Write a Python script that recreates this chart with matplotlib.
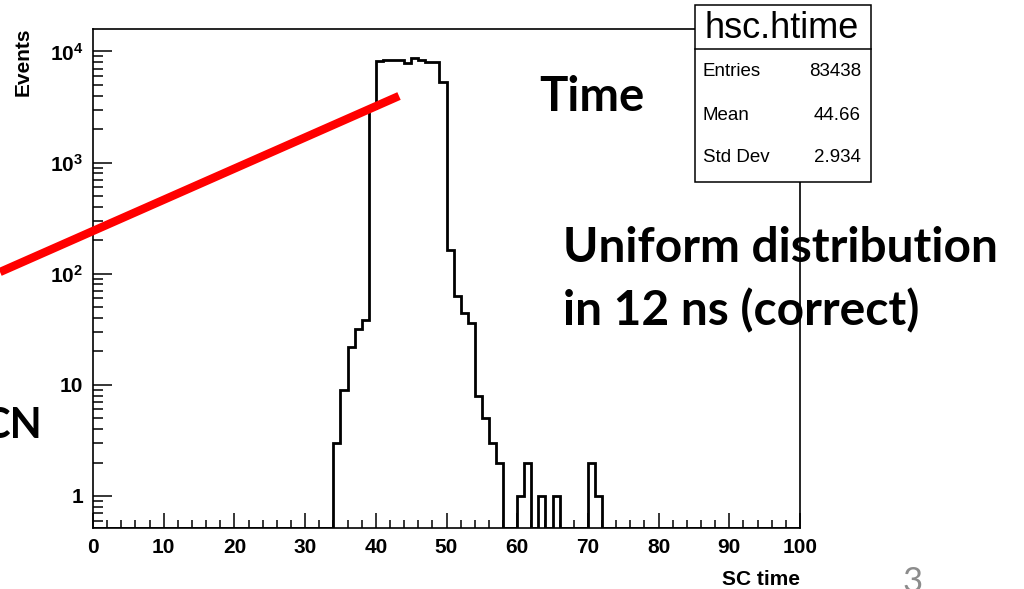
import numpy as np
import matplotlib
matplotlib.use("Agg")
import matplotlib.pyplot as plt
from matplotlib.lines import Line2D
from matplotlib.patches import Rectangle
from matplotlib.ticker import FixedLocator, MultipleLocator, NullFormatter

# SC time histogram (1 ns bins from 0 to 100), counts for bins 34..71, all others empty
bin_edges_range = (0, 100)
first_bin = 34
counts_34_71 = [
    3, 9, 22, 32, 38,                       # 34-38
    3100,                                   # 39
    8150, 8350, 8350, 8350, 7850,           # 40-44
    8650, 8400, 8100, 8100,                 # 45-48
    5300,                                   # 49
    162, 63, 44, 36, 8, 5, 3, 2,            # 50-57
    0, 0, 1, 2, 0, 1, 0, 1,                 # 58-65
    0, 0, 0, 0, 2, 1,                       # 66-71
]

# stats box
hist_name = "hsc.htime"
stat_names = ["Entries", "Mean", "Std Dev"]
stat_values = ["83438", "44.66", "2.934"]

# axis ticks
x_ticks = [0, 10, 20, 30, 40, 50, 60, 70, 80, 90, 100]
y_ticks = [1, 10, 100, 1000, 10000]
y_tick_labels = ["1", "10", r"$\mathbf{10^{2}}$", r"$\mathbf{10^{3}}$", r"$\mathbf{10^{4}}$"]

plt.rcParams["mathtext.fontset"] = "custom"
plt.rcParams["mathtext.bf"] = "Liberation Sans:bold"
plt.rcParams["mathtext.rm"] = "Liberation Sans"

root_font = "Liberation Sans"
slide_font = "Lato"

W, H = 1024, 589
fig = plt.figure(figsize=(W / 100, H / 100), dpi=100)
fig.patch.set_facecolor("white")


def fx(px):
    return px / W


def fy(py):
    return 1 - py / H


# build full histogram
edges = np.arange(bin_edges_range[0], bin_edges_range[1] + 1, 1)
counts = np.zeros(len(edges) - 1)
counts[first_bin:first_bin + len(counts_34_71)] = counts_34_71

ymin, ymax = 0.515, 15900

ax = fig.add_axes([fx(93), fy(528), fx(800) - fx(93), fy(29) - fy(528)])
ax.set_yscale("log")
ax.set_xlim(*bin_edges_range)
ax.set_ylim(ymin, ymax)

# empty bins sit on the bottom of the frame like in ROOT
ax.stairs(np.clip(counts, ymin, None), edges, baseline=ymin,
          color="black", linewidth=2.0, zorder=3)

# ROOT style ticks: inside, left and bottom only
ax.xaxis.set_major_locator(FixedLocator(x_ticks))
ax.xaxis.set_minor_locator(MultipleLocator(2))
ax.yaxis.set_major_locator(FixedLocator(y_ticks))
minor_y = [m * 10.0 ** e for e in range(-1, 5) for m in range(2, 10)]
ax.yaxis.set_minor_locator(FixedLocator(minor_y))
ax.yaxis.set_minor_formatter(NullFormatter())
ax.set_xticklabels([str(t) for t in x_ticks])
ax.set_yticklabels(y_tick_labels)

ax.tick_params(axis="x", which="major", direction="in", length=11, width=1.1,
               top=False, pad=7, labelsize=15)
ax.tick_params(axis="x", which="minor", direction="in", length=5.5, width=1.1, top=False)
ax.tick_params(axis="y", which="major", direction="in", length=14, width=1.1,
               right=False, pad=7, labelsize=15)
ax.tick_params(axis="y", which="minor", direction="in", length=7, width=1.1, right=False)
for lab in ax.get_xticklabels() + ax.get_yticklabels():
    lab.set_fontfamily(root_font)
    lab.set_fontweight("bold")

for sp in ax.spines.values():
    sp.set_linewidth(1.2)
    sp.set_color("black")

# axis titles (ROOT places them at the ends of the axes)
fig.text(fx(23), fy(27), "Events", rotation=90, ha="center", va="top",
         fontsize=15, fontweight="bold", family=root_font)
fig.text(fx(800), fy(585), "SC time", ha="right", va="baseline",
         fontsize=15, fontweight="bold", family=root_font)

# stats box
box_l, box_r, box_t, box_b, box_sep = 695, 871, 5, 182, 49
fig.add_artist(Rectangle((fx(box_l), fy(box_b)), fx(box_r) - fx(box_l), fy(box_t) - fy(box_b),
                         transform=fig.transFigure, facecolor="white",
                         edgecolor="black", linewidth=1.1, zorder=5))
fig.add_artist(Line2D([fx(box_l), fx(box_r)], [fy(box_sep), fy(box_sep)],
                      transform=fig.transFigure, color="black", linewidth=1.1, zorder=6))
fig.text(fx((box_l + box_r) / 2 - 1), fy(28), hist_name, ha="center", va="center",
         fontsize=26, family=root_font, zorder=7)
for i, (name, val) in enumerate(zip(stat_names, stat_values)):
    yy = fy(72 + i * 43)
    fig.text(fx(703), yy, name, ha="left", va="center", fontsize=13.5,
             family=root_font, zorder=7)
    fig.text(fx(861), yy, val, ha="right", va="center", fontsize=13.5,
             family=root_font, zorder=7)

# slide annotations
fig.text(fx(539), fy(111), "Time", ha="left", va="baseline", fontsize=34,
         fontweight="bold", family=slide_font, zorder=8)
fig.text(fx(563), fy(262), "Uniform distribution", ha="left", va="baseline",
         fontsize=34.5, fontweight="bold", family=slide_font, zorder=8)
fig.text(fx(563), fy(325), "in 12 ns (correct)", ha="left", va="baseline",
         fontsize=34.5, fontweight="bold", family=slide_font, zorder=8)
fig.text(fx(-18), fy(438), "CN", ha="left", va="baseline", fontsize=30,
         fontweight="bold", family=slide_font, zorder=8)
fig.text(fx(903), fy(566), "3", ha="left", va="top", fontsize=25,
         color="#8c8c8c", family=slide_font, zorder=8)

# red pointer line
fig.add_artist(Line2D([fx(0), fx(399)], [fy(272), fy(96)], transform=fig.transFigure,
                      color="#ff0000", linewidth=6, solid_capstyle="butt", zorder=9))

fig.savefig("out.png", dpi=100, facecolor="white")
